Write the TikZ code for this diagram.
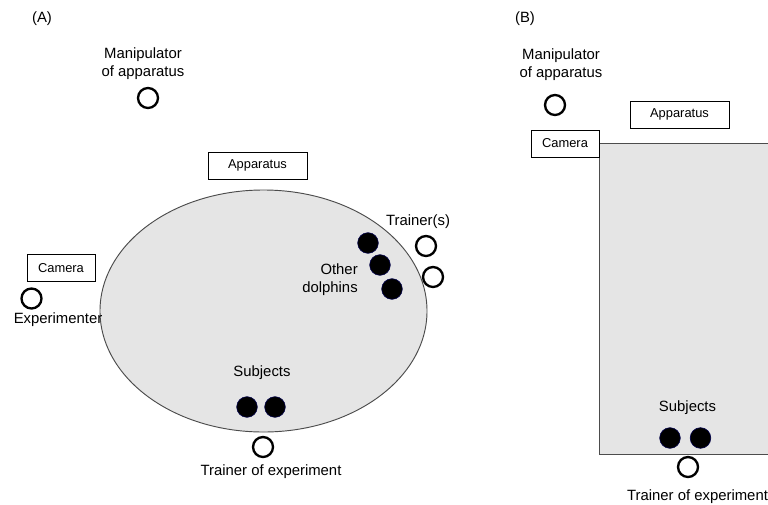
\documentclass[tikz,border=0pt]{standalone}
\usepackage{fontspec}
\setmainfont{Liberation Sans}
\usetikzlibrary{positioning}

\begin{document}
\begin{tikzpicture}[
    x=0.03cm, y=-0.03cm,
    % 文字與方框樣式
    lbl/.style={font=\fontsize{12.7}{15.3}\selectfont, align=center, inner sep=0pt},
    tagbox/.style={draw, line width=0.7pt, font=\fontsize{11}{13}\selectfont, minimum height=0.81cm, inner sep=0pt},
    person/.style={circle, draw, line width=2pt, minimum size=0.6cm, inner sep=0pt},
    dolphin/.style={circle, fill=black, draw=black!70!blue, line width=0.5pt, minimum size=0.62cm, inner sep=0pt},
    pool/.style={fill=gray!20, draw=black!70, line width=0.8pt}
]

\clip (0,0) rectangle (768,504);

% --- 1. (A) 圓形水池 ---
\node[lbl] (tagA) at (42,19) {(A)};
\draw[pool] (263.5,311) ellipse [x radius=4.905cm, y radius=3.63cm];

\node[tagbox, minimum width=2.97cm] (appA) at (257.5,165.5) {Apparatus};
\node[tagbox, minimum width=2.04cm] (camA) at (61,268) {Camera};

% 操作者與實驗者
\node[lbl] (manA_lbl) at (143,64) {Manipulator\\of apparatus};
\node[person] (manA) at (148,98) {};
\node[person] (expA) at (31.5,298.5) {};
\node[lbl] (expA_lbl) at (58,320) {Experimenter};

% 訓練員 (右側)
\node[lbl] (trA_lbl) at (418,222) {Trainer(s)};
\node[person] (trA1) at (426,246) {};
\node[person] (trA2) at (433,277) {};

% 其他海豚
\node[dolphin] (othA1) at (368,243) {};
\node[dolphin] (othA2) at (380,265) {};
\node[dolphin] (othA3) at (392,289) {};
\node[lbl, align=right] (othA_lbl) at (330,280) {Other\\dolphins};

% 受試者
\node[lbl] (subA_lbl) at (262,373) {Subjects};
\node[dolphin] (subA1) at (247,407) {};
\node[dolphin] (subA2) at (275,407) {};

% 實驗訓練員
\node[person] (teA) at (263,447) {};
\node[lbl] (teA_lbl) at (271,472) {Trainer of experiment};

% --- 2. (B) 方形水池 ---
\node[lbl] (tagB) at (525,19) {(B)};
\draw[pool] (599,143) rectangle (790,454);

\node[tagbox, minimum width=2.97cm] (appB) at (679.5,114.5) {Apparatus};
\node[tagbox, minimum width=2.04cm] (camB) at (565,143.5) {Camera};

\node[lbl] (manB_lbl) at (561,65) {Manipulator\\of apparatus};
\node[person] (manB) at (555,105) {};

\node[lbl] (subB_lbl) at (687.5,408) {Subjects};
\node[dolphin] (subB1) at (670,438) {};
\node[dolphin] (subB2) at (700.5,438) {};

\node[person] (teB) at (688,467) {};
\node[lbl] (teB_lbl) at (697.5,497) {Trainer of experiment};

\end{tikzpicture}
\end{document}
